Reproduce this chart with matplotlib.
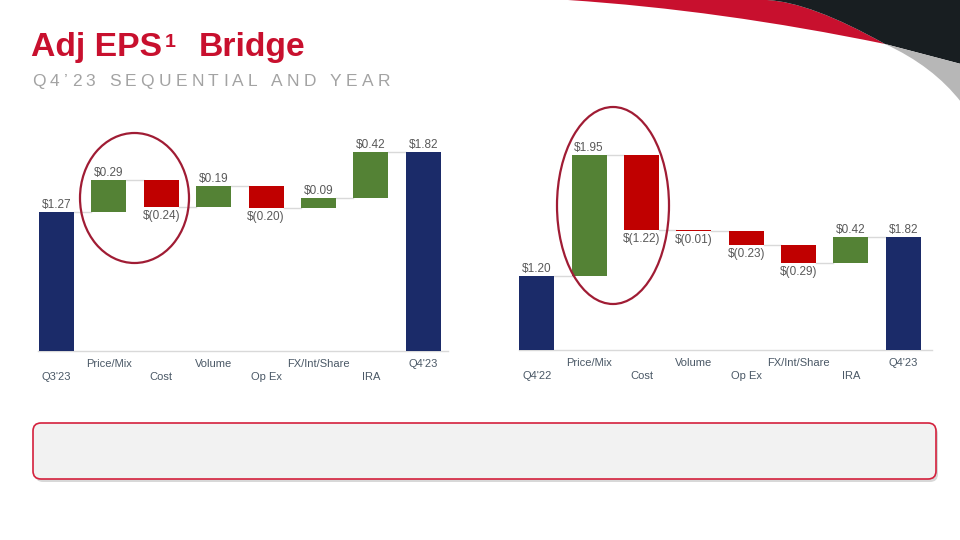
import matplotlib
matplotlib.use("Agg")
import matplotlib.pyplot as plt
from matplotlib.patches import Ellipse, FancyBboxPatch, PathPatch
from matplotlib.path import Path

plt.rcParams['font.family'] = ['Liberation Sans', 'DejaVu Sans']

# ---------------- data ----------------
cats_left = ["Q3'23", "Price/Mix", "Cost", "Volume", "Op Ex", "FX/Int/Share", "IRA", "Q4'23"]
vals_left = [1.27, 0.29, -0.24, 0.19, -0.20, 0.09, 0.42, 1.82]
cats_right = ["Q4'22", "Price/Mix", "Cost", "Volume", "Op Ex", "FX/Int/Share", "IRA", "Q4'23"]
vals_right = [1.20, 1.95, -1.22, -0.01, -0.23, -0.29, 0.42, 1.82]

title_a = "Adj EPS"
title_sup = "1"
title_b = "Bridge"
subtitle = "Q4\u201923 SEQUENTIAL AND YEAR"

C_TOTAL = "#1b2b69"
C_UP = "#548235"
C_DOWN = "#c00000"
C_LABEL = "#595959"
C_TICK = "#4a5866"
C_GRID = "#d9d9d9"

W, H = 960, 540
fig = plt.figure(figsize=(9.6, 5.4), dpi=100)
fig.patch.set_facecolor("white")


def px_axes(x0, ytop, w, h):
    return fig.add_axes([x0 / W, 1 - (ytop + h) / H, w / W, h / H])


def fmt(v, total):
    if total or v >= 0:
        return f"${abs(v):.2f}"
    return f"$({abs(v):.2f})"


def waterfall(ax, cats, vals, ymax, xmax):
    n = len(vals)
    bw = 0.67
    level = 0.0
    for i, v in enumerate(vals):
        total = (i == 0 or i == n - 1)
        if total:
            bottom, height, color = 0, v, C_TOTAL
            level = v
        else:
            bottom, height = level, v
            color = C_UP if v >= 0 else C_DOWN
            level = level + v
        ax.bar(i, height, bottom=bottom, width=bw, color=color, zorder=3, linewidth=0)
        top = max(bottom, bottom + height)
        low = min(bottom, bottom + height)
        if total or v >= 0:
            ax.annotate(fmt(v, total), xy=(i, top), xytext=(0, 1), textcoords="offset pixels",
                        ha="center", va="bottom", fontsize=8.5, color=C_LABEL, zorder=5)
        else:
            ax.annotate(fmt(v, total), xy=(i, low), xytext=(0, -3), textcoords="offset pixels",
                        ha="center", va="top", fontsize=8.5, color=C_LABEL, zorder=5)
        if i < n - 1:
            ax.plot([i + bw / 2, i + 1 - bw / 2], [level, level], color=C_GRID, lw=1, zorder=2)
        off = -26 if i % 2 == 0 else -13
        ax.annotate(cats[i], xy=(i, 0), xytext=(0, off), textcoords="offset pixels",
                    ha="center", va="center", fontsize=8, color=C_TICK, annotation_clip=False)
    ax.set_xlim(-0.35, xmax)
    ax.set_ylim(0, ymax)
    for s in ["top", "right", "left"]:
        ax.spines[s].set_visible(False)
    ax.spines["bottom"].set_color(C_GRID)
    ax.spines["bottom"].set_linewidth(1)
    ax.set_xticks([])
    ax.set_yticks([])
    ax.patch.set_alpha(0)


axL = px_axes(38, 130, 410, 221)
waterfall(axL, cats_left, vals_left, 221 / 109.4, 7.47)
axR = px_axes(518.5, 100, 413.5, 250)
waterfall(axR, cats_right, vals_right, 250 / 62.0, 7.55)

# ---------------- overlay (pixel coords) ----------------
ov = fig.add_axes([0, 0, 1, 1], zorder=10)
ov.set_xlim(0, W)
ov.set_ylim(H, 0)
ov.axis("off")
ov.patch.set_alpha(0)

# decoration top right
red = Path([(568, 0), (767, 0), (810, 2), (885, 44), (720, 10), (568, 0), (568, 0)],
           [Path.MOVETO, Path.LINETO, Path.CURVE3, Path.CURVE3, Path.CURVE3, Path.CURVE3, Path.CLOSEPOLY])
ov.add_patch(PathPatch(red, facecolor="#c8102e", edgecolor="none"))
dark = Path([(767, 0), (961, 0), (961, 64), (885, 44), (810, 2), (767, 0), (767, 0)],
            [Path.MOVETO, Path.LINETO, Path.LINETO, Path.LINETO, Path.CURVE3, Path.CURVE3, Path.CLOSEPOLY])
ov.add_patch(PathPatch(dark, facecolor="#181e21", edgecolor="none"))
gray = Path([(885, 44), (961, 64), (961, 102), (933, 66), (885, 44), (885, 44)],
            [Path.MOVETO, Path.LINETO, Path.LINETO, Path.CURVE3, Path.CURVE3, Path.CLOSEPOLY])
ov.add_patch(PathPatch(gray, facecolor="#b7b7b7", edgecolor="none"))

# ellipses
ov.add_patch(Ellipse((134.5, 198), 109, 130, fill=False, edgecolor="#a01c34", lw=1.6))
ov.add_patch(Ellipse((613, 205.5), 112, 197, fill=False, edgecolor="#a01c34", lw=1.6))

# bottom box with shadow
ov.add_patch(FancyBboxPatch((35, 426), 903, 56, boxstyle="round,pad=0,rounding_size=8",
                            facecolor="#c8c8c8", edgecolor="none", alpha=0.7))
ov.add_patch(FancyBboxPatch((33, 423), 903, 56, boxstyle="round,pad=0,rounding_size=8",
                            facecolor="#f2f2f2", edgecolor="#d4213d", lw=1.2))

# title
ov.text(31, 56, title_a, fontsize=24.3, fontweight="bold", color="#c8102e", ha="left", va="baseline")
ov.text(165, 47, title_sup, fontsize=14, fontweight="bold", color="#c8102e", ha="left", va="baseline")
ov.text(199, 56, title_b, fontsize=24.3, fontweight="bold", color="#c8102e", ha="left", va="baseline")

# letter-spaced subtitle
fig.canvas.draw()
renderer = fig.canvas.get_renderer()
fs = 12.5
widths = []
for ch in subtitle:
    if ch == " ":
        widths.append(fs * 100 / 72 * 0.278)
        continue
    t = ov.text(0, 0, ch, fontsize=fs)
    widths.append(t.get_window_extent(renderer).width)
    t.remove()
target = 358
track = (target - sum(widths)) / (len(subtitle) - 1)
x = 32
for ch, w in zip(subtitle, widths):
    if ch != " ":
        ov.text(x, 86, ch, fontsize=fs, color="#a3a3a3", ha="left", va="baseline")
    x += w + track

fig.savefig("out.png", dpi=100, facecolor="white")
